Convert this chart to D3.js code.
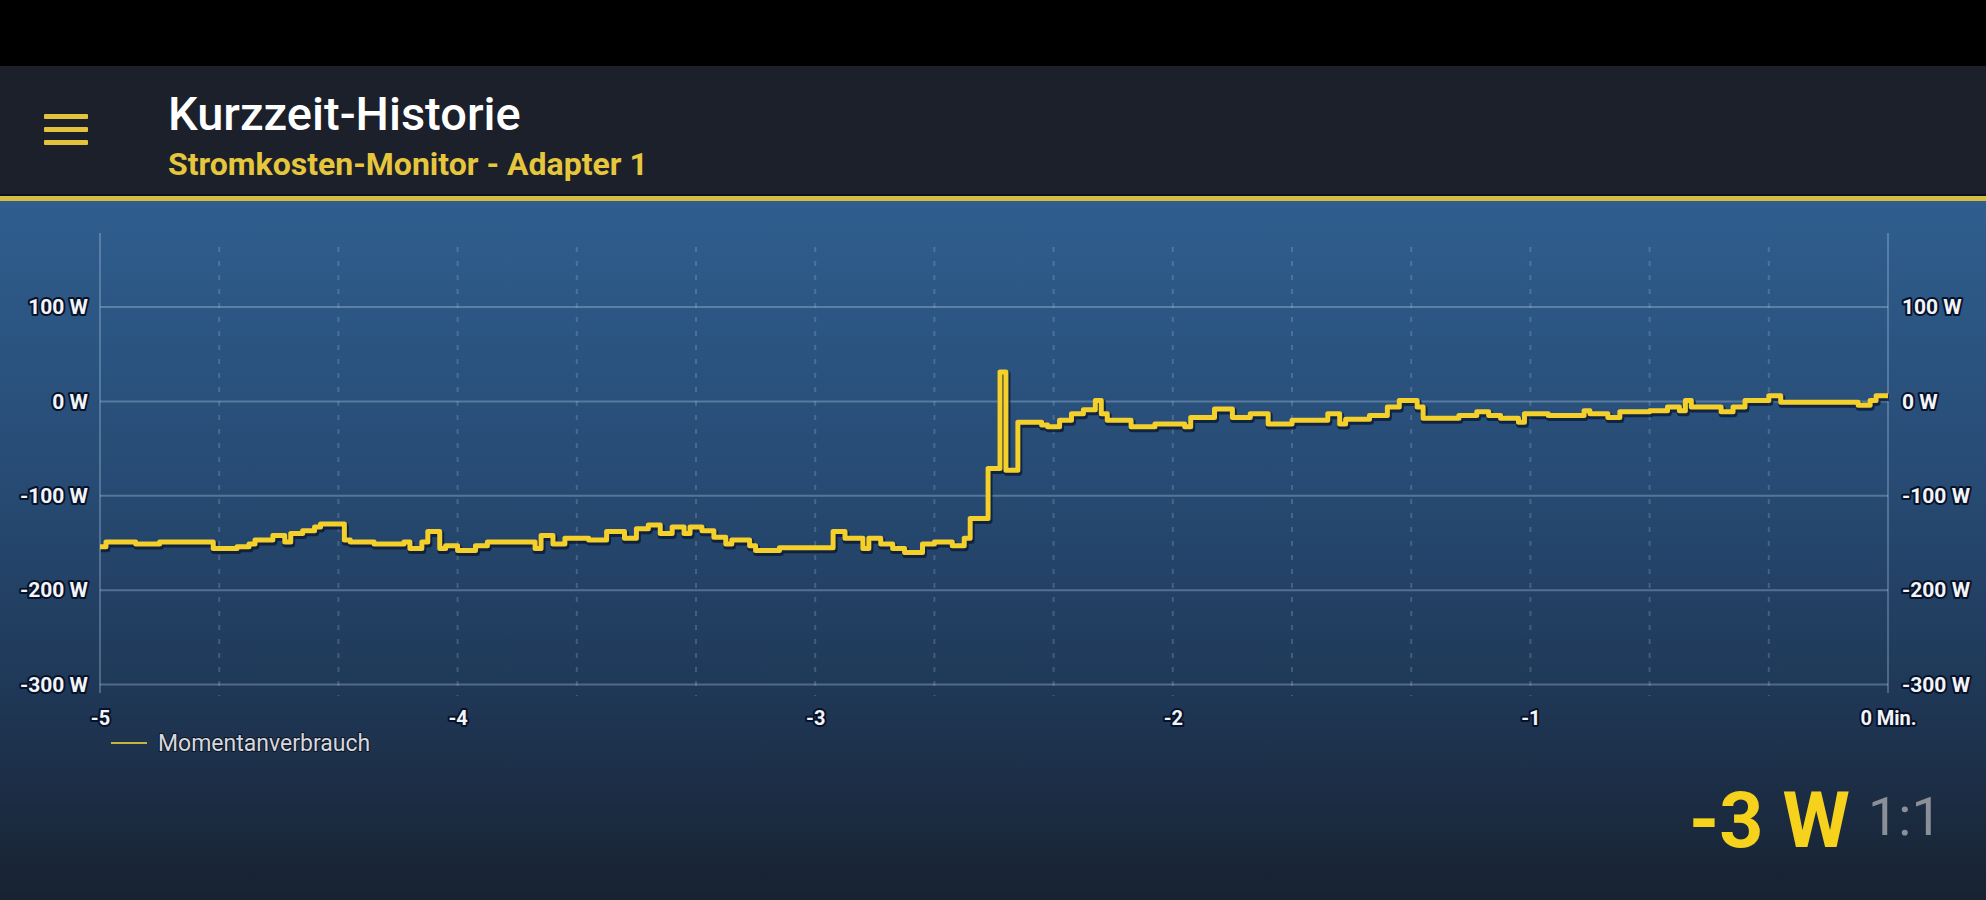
<!DOCTYPE html>
<html lang="de">
<head>
<meta charset="UTF-8">
<title>Kurzzeit-Historie</title>
<script src="https://d3js.org/d3.v7.min.js"></script>
<style>
    body { margin: 0; background: #000; }
    text { font-family: Roboto, "Liberation Sans", sans-serif; }
    .lbl { font-weight: bold; fill: #f2f4f7; paint-order: stroke; stroke: #07122a; stroke-width: 4px; stroke-linejoin: round; }
</style>
</head>
<body>
<div id="chart"></div>
<script>
// seconds before now, and measured power in W (step samples)
var timeSec = [-300, -299, -294, -290, -281, -277, -275, -274, -271, -269, -268, -266, -264, -263, -259, -258,
    -254, -249, -248, -246, -245, -243, -242, -240, -237, -235, -227, -226, -224, -222, -218, -215, -212, -210,
    -208, -206, -204, -202, -201, -199, -197, -195, -194, -191, -190, -186, -177, -175, -172, -171, -169, -167,
    -165, -162, -160, -157, -155, -154, -151, -149, -148, -146, -142, -141, -139, -137, -135, -133, -132, -131,
    -127, -123, -118, -117, -113, -110, -107, -104, -100, -94, -92, -91, -87, -84, -82, -79, -78, -72, -69, -67,
    -65, -62, -61, -57, -51, -50, -47, -45, -40, -37, -35, -34, -33, -28, -26, -24, -20, -18, -5, -3, -2, 0];
var watts = [-154, -149, -151, -149, -156, -154, -151, -147, -142, -149, -140, -137, -133, -130, -147, -149,
    -151, -149, -156, -149, -138, -156, -153, -158, -153, -149, -156, -142, -151, -145, -147, -138, -145, -135,
    -131, -140, -133, -140, -133, -137, -144, -151, -147, -153, -158, -155, -138, -145, -156, -145, -151, -156,
    -160, -151, -149, -153, -145, -124, -71, 31, -73, -22, -25, -27, -20, -13, -9, 1, -13, -20,
    -27, -24, -27, -17, -8, -17, -13, -24, -20, -13, -24, -19, -15, -6, 1, -6, -18, -15, -11, -15,
    -18, -22, -13, -15, -10, -13, -17, -11, -10, -6, -10, 1, -6, -11, -6, 1, 6, -1, -4, 1, 6, 6];

var yTicks = [100, 0, -100, -200, -300];
var xTicks = [-300, -240, -180, -120, -60, 0];
var xTickLabels = ["-5", "-4", "-3", "-2", "-1", "0 Min."];
var seriesName = "Momentanverbrauch";
var currentValue = "-3 W";

var width = 1986, height = 900;
var left = 100, right = 1888, plotTop = 233, plotBottom = 693;

var svg = d3.select("#chart").append("svg")
    .attr("width", width)
    .attr("height", height);

var defs = svg.append("defs");
var grad = defs.append("linearGradient").attr("id", "bg").attr("x1", 0).attr("y1", 0).attr("x2", 0).attr("y2", 1);
grad.append("stop").attr("offset", "0%").attr("stop-color", "#2f5e8e");
grad.append("stop").attr("offset", "40%").attr("stop-color", "#274b74");
grad.append("stop").attr("offset", "70%").attr("stop-color", "#1f3857");
grad.append("stop").attr("offset", "100%").attr("stop-color", "#182231");

// header
svg.append("rect").attr("width", width).attr("height", height).attr("fill", "#000");
svg.append("rect").attr("y", 66).attr("width", width).attr("height", 130).attr("fill", "#1b202b");
svg.append("rect").attr("y", 201).attr("width", width).attr("height", height - 201).attr("fill", "url(#bg)");
svg.append("rect").attr("y", 194).attr("width", width).attr("height", 2).attr("fill", "#0c1224");
svg.append("rect").attr("y", 196).attr("width", width).attr("height", 5).attr("fill", "#d8bb42");

[114, 127, 140].forEach(function(y) {
    svg.append("rect").attr("x", 44).attr("y", y).attr("width", 44).attr("height", 5)
        .attr("rx", 1).attr("fill", "#e2c33b");
});

svg.append("text").attr("x", 168).attr("y", 130)
    .style("font-size", "47px").style("font-weight", 500)
    .attr("fill", "#ffffff")
    .text("Kurzzeit-Historie");
svg.append("text").attr("x", 168).attr("y", 175)
    .style("font-size", "32px").style("font-weight", "bold")
    .attr("fill", "#e6c63d")
    .text("Stromkosten-Monitor - Adapter 1");

// scales
var x = d3.scaleLinear().domain([-300, 0]).range([left, right]);
var y = d3.scaleLinear().domain([-300, 100]).range([684.5, 307]);

// vertical dotted grid every 20 s
var vgrid = d3.range(-280, 0, 20);
svg.append("g").selectAll("line")
    .data(vgrid)
    .enter().append("line")
    .attr("x1", function(d) { return x(d); })
    .attr("x2", function(d) { return x(d); })
    .attr("y1", 247)
    .attr("y2", 696)
    .attr("stroke", "rgba(190,210,235,0.22)")
    .attr("stroke-width", 2)
    .attr("stroke-dasharray", "5,9");

// horizontal grid
svg.append("g").selectAll("line")
    .data(yTicks)
    .enter().append("line")
    .attr("x1", left)
    .attr("x2", right)
    .attr("y1", function(d) { return y(d); })
    .attr("y2", function(d) { return y(d); })
    .attr("stroke", "rgba(190,210,235,0.32)")
    .attr("stroke-width", 2);

// side frame lines
[left, right].forEach(function(xx) {
    svg.append("line").attr("x1", xx).attr("x2", xx).attr("y1", plotTop).attr("y2", plotBottom)
        .attr("stroke", "rgba(190,210,235,0.3)").attr("stroke-width", 2);
});

// y axes (labels only)
var fmt = function(d) { return d + " W"; };
var yl = svg.append("g").attr("transform", "translate(" + left + ",0)")
    .call(d3.axisLeft(y).tickValues(yTicks).tickFormat(fmt).tickSize(0).tickPadding(12));
var yr = svg.append("g").attr("transform", "translate(" + right + ",0)")
    .call(d3.axisRight(y).tickValues(yTicks).tickFormat(fmt).tickSize(0).tickPadding(14));
[yl, yr].forEach(function(g) {
    g.select(".domain").remove();
    g.selectAll("text").attr("class", "lbl").style("font-size", "21px");
});

// x axis
var xa = svg.append("g").attr("transform", "translate(0," + plotBottom + ")")
    .call(d3.axisBottom(x).tickValues(xTicks)
        .tickFormat(function(d, i) { return xTickLabels[i]; })
        .tickSize(0).tickPadding(18));
xa.select(".domain").remove();
xa.selectAll("text").attr("class", "lbl").style("font-size", "20px");

// the series
var pts = timeSec.map(function(t, i) { return [t, watts[i]]; });
var line = d3.line()
    .x(function(d) { return x(d[0]); })
    .y(function(d) { return y(d[1]); })
    .curve(d3.curveStepAfter);

svg.append("path")
    .attr("d", line(pts))
    .attr("transform", "translate(1,2)")
    .attr("fill", "none")
    .attr("stroke", "#0a1730")
    .attr("stroke-opacity", 0.75)
    .attr("stroke-width", 7)
    .attr("stroke-linejoin", "round");
svg.append("path")
    .attr("d", line(pts))
    .attr("fill", "none")
    .attr("stroke", "#f4d02c")
    .attr("stroke-width", 5)
    .attr("stroke-linejoin", "round");

// legend
svg.append("line").attr("x1", 111).attr("x2", 147).attr("y1", 743).attr("y2", 743)
    .attr("stroke", "#c9b23e").attr("stroke-width", 2);
svg.append("text").attr("x", 158).attr("y", 751)
    .style("font-size", "23px")
    .attr("fill", "#d6d8dc")
    .attr("paint-order", "stroke").attr("stroke", "#0d1628").attr("stroke-width", 2)
    .text(seriesName);

// current value
svg.append("text").attr("x", 1850).attr("y", 847)
    .attr("text-anchor", "end")
    .style("font-size", "77px").style("font-weight", "bold")
    .attr("fill", "#f6d21c")
    .text(currentValue);
svg.append("text").attr("x", 1868).attr("y", 835)
    .style("font-size", "54px")
    .attr("fill", "#8b9098")
    .text("1:1");
</script>
</body>
</html>
